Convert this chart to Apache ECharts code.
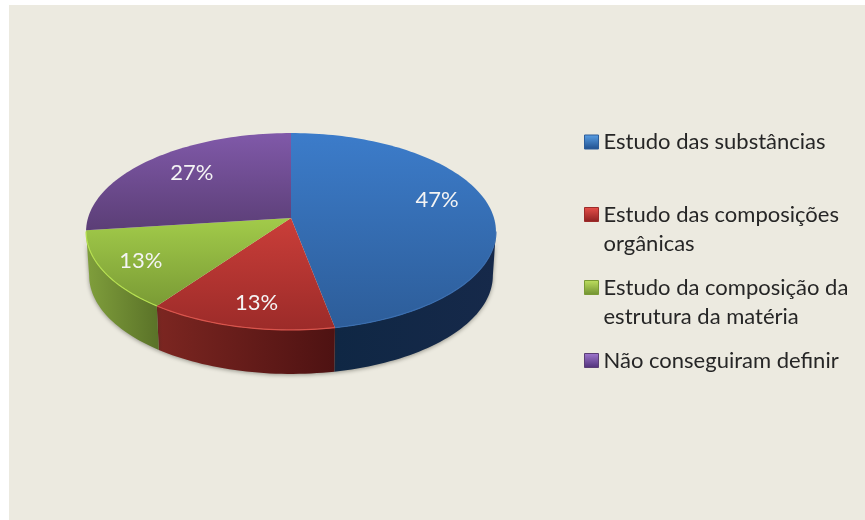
<!DOCTYPE html>
<html><head><meta charset="utf-8">
<style>html,body{margin:0;padding:0;background:#fff}#c{width:865px;height:520px}canvas{filter:blur(.45px)}</style>
<script src="https://cdn.jsdelivr.net/npm/echarts@6/dist/echarts.min.js"></script>
</head><body><div id="c"></div>
<script>
const categories = ['Estudo das substâncias','Estudo das composições orgânicas','Estudo da composição da estrutura da matéria','Não conseguiram definir'];
const legendLines = [['Estudo das substâncias',' '],['Estudo das composições','orgânicas'],['Estudo da composição da','estrutura da matéria'],['Não conseguiram definir',' ']];
const values = [47,13,13,27];

// presentation only
const legendCenters = [142,214.5,287.5,360.5];
const topColors = [['#3c7cca','#2d5d99'],['#ca3e39','#9c2b29'],['#a2cb4a','#7a9b35'],['#8059a9','#5b3e76']];
const wallColors = [['#0f2744','#16294a'],['#7c2621','#4e1212'],['#809f3c','#5a7228'],['#5b3e76','#5b3e76']];
const rimColors = ['#3a6eb0','#d9544c','#b6e050','#6d4a8f'];
const legendColors = [['#5aa0e6','#1f4e8c'],['#e8504a','#8c2020'],['#bfe060','#6f9030'],['#a078d0','#4f3078']];
const labelNudge = [[-6,-11],[3,5],[-10,3],[9,0]];

const CX=291, AY=218, K=.137, A=96.6, B=203, DEPTH=44, BASE=.985, LABEL_R=.76;
const total = values.reduce((a,b)=>a+b,0);
const project = deg => { const t=deg*Math.PI/180, u=Math.sin(t), v=-Math.cos(t), d=1-K*v; return [CX+B*u/d, AY+A*v/d]; };
const under = p => [CX+(p[0]-CX)*BASE, p[1]+DEPTH];
const FRONT_A = Math.acos(K)*180/Math.PI; // silhouette angle from the front direction
const arc = (a,b) => { const out=[], n=Math.max(2,Math.ceil((b-a)/1.5)); for(let i=0;i<=n;i++) out.push(project(a+(b-a)*i/n)); return out; };
const lg = (x2,y2,c) => new echarts.graphic.LinearGradient(0,0,x2,y2,[{offset:0,color:c[0]},{offset:1,color:c[1]}]);

const starts = values.map((_,i)=>values.slice(0,i).reduce((a,b)=>a+b,0));

function sliceRenderer(i){
  return function(params, api){
    const a = api.value(1)/total*360, b = a + api.value(0)/total*360;
    const children = [];
    const wa = Math.max(a, 180-(FRONT_A)), wb = Math.min(b, 180+(FRONT_A));
    if (wb > wa) {
      const rim = arc(wa,wb);
      children.push({type:'polygon',shape:{points:rim.concat(rim.slice().reverse().map(under))},
        style:{fill:lg(1,0,wallColors[i]),shadowColor:'rgba(40,40,30,.45)',shadowBlur:4,shadowOffsetY:1}});
    }
    children.push({type:'polygon',shape:{points:[[CX,AY]].concat(arc(a,b))},style:{fill:lg(0,1,topColors[i])}});
    if (wb > wa) children.push({type:'polyline',shape:{points:arc(wa,wb)},style:{fill:null,stroke:rimColors[i],lineWidth:1.2}});
    const m = (a+b)/2, t=m*Math.PI/180, u=Math.sin(t)*LABEL_R, v=-Math.cos(t)*LABEL_R, d=1-K*v;
    children.push({type:'text',style:{text:api.value(0)+'%',x:CX+B*u/d+labelNudge[i][0],y:AY+A*v/d+labelNudge[i][1],
      align:'center',verticalAlign:'middle',fill:'#f4f4f4',font:'22px Lato'}});
    return {type:'group',children};
  };
}

const chart = echarts.init(document.getElementById('c'),null,{renderer:'canvas'});
chart.setOption({
  animation:false,
  backgroundColor:'#fff',
  graphic:[{type:'rect',z:-10,silent:true,shape:{x:9,y:5,width:856,height:515},style:{fill:'#ecEAE0'}}],
  legend: categories.map((name,i)=>({
    data:[{name,icon:'rect',itemStyle:{color:lg(0,1,legendColors[i]),borderColor:topColors[i][1],borderWidth:1}}],
    left:584, top:legendCenters[i]-43.5, padding:0, itemWidth:14, itemHeight:14, selectedMode:false,
    formatter:()=>'\n'+legendLines[i].join('\n'),
    textStyle:{fontFamily:'Lato',fontSize:22,lineHeight:29,color:'#262626'}
  })),
  series: categories.map((name,i)=>({
    type:'custom',name,coordinateSystem:'none',silent:true,
    itemStyle:{color:topColors[i][0]},
    data:[[values[i],starts[i]]],
    renderItem:sliceRenderer(i)
  }))
});
</script></body></html>
